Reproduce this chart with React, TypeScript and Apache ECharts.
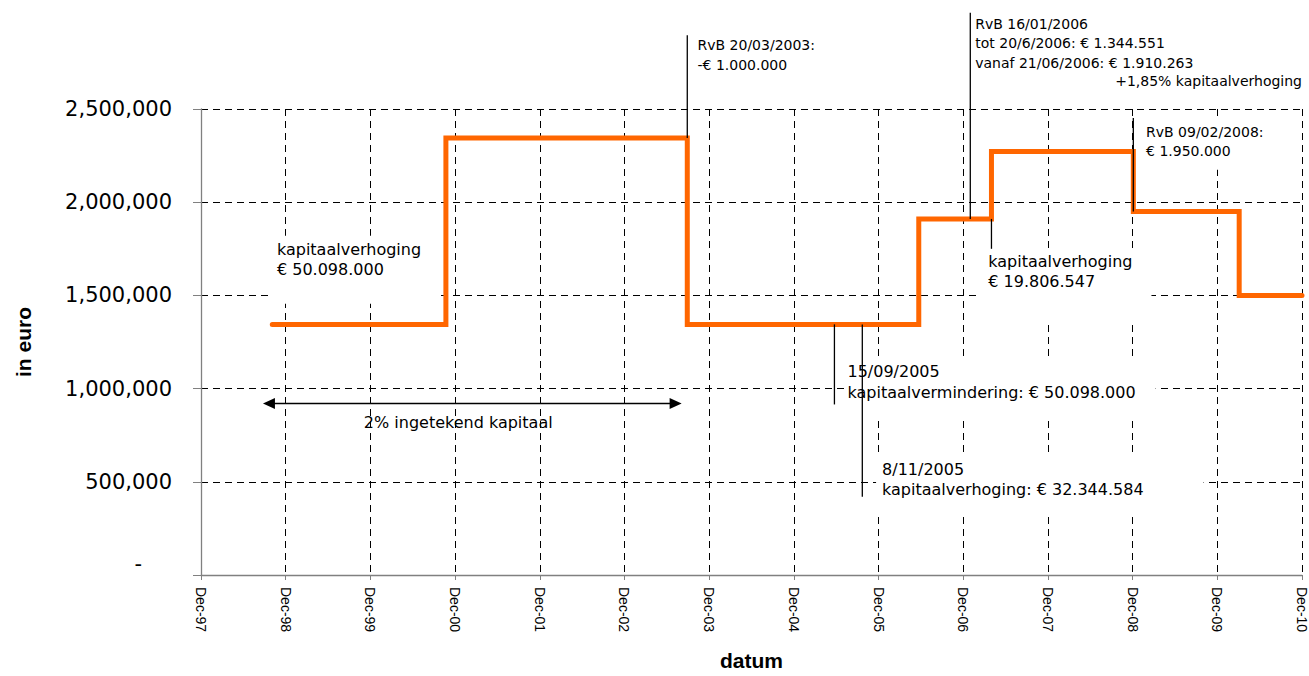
import React, { useEffect, useRef } from "react";
import * as echarts from "echarts";

// x values: months since Dec-1997
const xTickLabels = [
  "Dec-97", "Dec-98", "Dec-99", "Dec-00", "Dec-01", "Dec-02", "Dec-03",
  "Dec-04", "Dec-05", "Dec-06", "Dec-07", "Dec-08", "Dec-09", "Dec-10",
];
const stepMonths = [10.1, 34.7, 68.9, 101.7, 112.0, 132.1, 147.1, 156];
const stepValues = [1344551, 2344551, 1344551, 1910263, 2272000, 1950000, 1500000, 1500000];

// leader lines: [month, fromValue, toValue]
const leaderLines = [
  [68.9, 2895000, 2344551],
  [109.0, 3016000, 1910263],
  [112.0, 1910263, 1750000],
  [132.1, 2452000, 1950000],
  [89.75, 1344551, 915000],
  [93.7, 1344551, 420000],
];

// notes: [month, value (top of text), text, fontSize, lineHeight, align, padding or null]
const notes: [number, number, string, number, number, string, number[] | null][] = [
  [70.35, 2895000, "RvB 20/03/2003:\n-€ 1.000.000", 14, 19.5, "left", null],
  [109.7, 3010000, "RvB 16/01/2006\ntot 20/6/2006: € 1.344.551\nvanaf 21/06/2006: € 1.910.263", 14, 19.5, "left", null],
  [156, 2705000, "+1,85% kapitaalverhoging", 14, 19.5, "right", null],
  [133.9, 2431000, "RvB 09/02/2008:\n€ 1.950.000", 14, 19.5, "left", [5, 15, 9, 7]],
  [10.76, 1798000, "kapitaalverhoging\n€ 50.098.000", 16, 20, "left", [4, 15, 24, 5]],
  [111.55, 1734000, "kapitaalverhoging\n€ 19.806.547", 16, 20, "left", [3, 19, 30, 12]],
  [91.6, 1149000, "15/09/2005\nkapitaalvermindering: € 50.098.000", 16, 21, "left", [3, 20, 15, 3]],
  [96.5, 622000, "8/11/2005\nkapitaalverhoging: € 32.344.584", 16, 20, "left", [7, 60, 18, 6]],
  [23.07, 872000, "2% ingetekend kapitaal", 16, 20, "left", null],
];

// double arrow: [fromMonth, toMonth, value]
const spanArrow = [8.78, 68.1, 920000];

export default function App() {
  const ref = useRef<HTMLDivElement>(null);
  useEffect(() => {
    if (!ref.current) return;
    const chart = echarts.init(ref.current, undefined, { renderer: "svg" });
    const option: any = {
      animation: false,
      backgroundColor: "#ffffff",
      grid: { left: 201, right: 6, top: 109, bottom: 97, containLabel: false },
      xAxis: {
        type: "value",
        min: 0,
        max: 156,
        interval: 12,
        name: "datum",
        nameLocation: "middle",
        nameGap: 75,
        nameTextStyle: { fontFamily: "Liberation Sans", fontWeight: "bold", fontSize: 21, color: "#000" },
        axisLine: { lineStyle: { color: "#808080", width: 1.3 } },
        axisTick: { show: true, length: 5, lineStyle: { color: "#808080" } },
        axisLabel: {
          rotate: -90,
          margin: 12,
          fontFamily: "Liberation Sans",
          fontSize: 14,
          color: "#000",
          formatter: (v: number) => xTickLabels[Math.round(v / 12)] || "",
        },
        splitLine: { show: true, lineStyle: { color: "#000", type: [7, 5], width: 1 } },
      },
      yAxis: {
        type: "value",
        min: 0,
        max: 2500000,
        interval: 500000,
        name: "in euro",
        nameLocation: "middle",
        nameGap: 167,
        nameRotate: 90,
        nameTextStyle: { fontFamily: "Liberation Sans", fontWeight: "bold", fontSize: 21, color: "#000" },
        axisLine: { show: true, lineStyle: { color: "#808080", width: 1.3 } },
        axisTick: { show: true, length: 8, lineStyle: { color: "#808080" } },
        axisLabel: {
          margin: 29,
          fontFamily: "DejaVu Sans",
          fontSize: 21,
          color: "#000",
          formatter: (v: number) => (v === 0 ? "{z|-}" : v.toLocaleString("en-US")),
          rich: { z: { fontFamily: "DejaVu Sans", fontSize: 21, color: "#000", padding: [0, 30, 22, 0] } },
        },
        splitLine: { show: true, lineStyle: { color: "#000", type: [7, 5], width: 1 } },
      },
      series: [
        {
          type: "line",
          step: "end",
          data: stepMonths.map((m, i) => [m, stepValues[i]]),
          showSymbol: false,
          z: 3,
          lineStyle: { color: "#FF6600", width: 5, cap: "round", join: "miter" },
        },
      ],
    };
    chart.setOption(option);

    const px = (x: number, y: number) => chart.convertToPixel({ gridIndex: 0 }, [x, y]) as number[];
    const graphics: any[] = [];
    notes.forEach(([m, v, text, size, lh, align, pad]) => {
      const p = px(m, v);
      const padding = pad || [0, 0, 0, 0];
      graphics.push({
        type: "text",
        x: align === "right" ? p[0] + padding[1] : p[0] - padding[3],
        y: p[1] - padding[0],
        z: 1,
        silent: true,
        style: {
          text,
          fontFamily: "DejaVu Sans",
          fontSize: size,
          lineHeight: lh,
          fill: "#000",
          align,
          verticalAlign: "top",
          backgroundColor: pad ? "#ffffff" : undefined,
          padding: pad || undefined,
        },
      });
    });
    leaderLines.forEach(([m, v1, v2]) => {
      const a = px(m, v1);
      const b = px(m, v2);
      graphics.push({
        type: "line",
        z: 4,
        silent: true,
        shape: { x1: a[0], y1: a[1], x2: b[0], y2: b[1] },
        style: { stroke: "#000", lineWidth: 1.3 },
      });
    });
    const a1 = px(spanArrow[0], spanArrow[2]);
    const a2 = px(spanArrow[1], spanArrow[2]);
    graphics.push({
      type: "line",
      z: 4,
      silent: true,
      shape: { x1: a1[0] + 6, y1: a1[1], x2: a2[0] - 6, y2: a2[1] },
      style: { stroke: "#000", lineWidth: 1.5 },
    });
    graphics.push({
      type: "polygon",
      z: 4,
      silent: true,
      shape: { points: [[a1[0], a1[1]], [a1[0] + 12, a1[1] - 5.5], [a1[0] + 12, a1[1] + 5.5]] },
      style: { fill: "#000" },
    });
    graphics.push({
      type: "polygon",
      z: 4,
      silent: true,
      shape: { points: [[a2[0], a2[1]], [a2[0] - 12, a2[1] - 5.5], [a2[0] - 12, a2[1] + 5.5]] },
      style: { fill: "#000" },
    });
    chart.setOption({ graphic: graphics });

    return () => chart.dispose();
  }, []);
  return (
    <div
      ref={ref}
      style={{ position: "fixed", left: 0, top: 0, width: 1309, height: 676, background: "#fff" }}
    />
  );
}
